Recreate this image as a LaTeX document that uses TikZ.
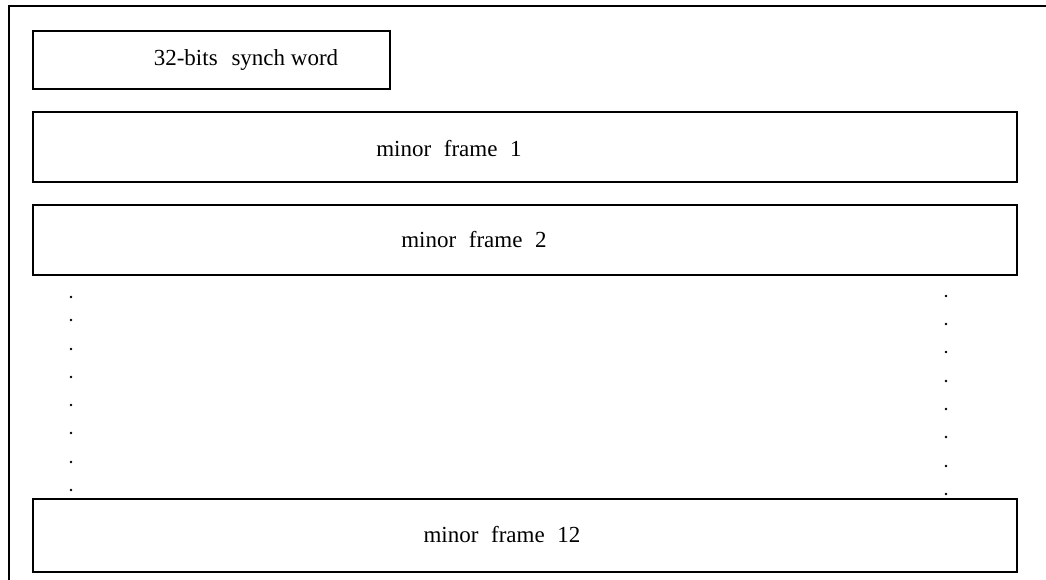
\documentclass[tikz,border=0pt]{standalone}
\usepackage{fontspec}
\setmainfont{Liberation Serif}
\begin{document}
\begin{tikzpicture}[x=1pt,y=-1pt,
  frame/.style={draw, line width=1.6pt, inner sep=0pt},
  lbl/.style={inner sep=0pt, font=\fontsize{23}{26}\selectfont},
  dot/.style={circle, fill, inner sep=0pt, minimum size=2.6pt}]
\useasboundingbox (0,0) rectangle (1046,580);
\coordinate (ol) at (9,580);
\coordinate (otl) at (9,6);
\coordinate (otr) at (1046,6);
\draw[line width=1.5pt] (ol) -- (otl) -- (otr);
\node[frame, minimum width=357pt, minimum height=58pt] (sync) at (211.5,60) {};
\node[frame, minimum width=984pt, minimum height=70pt] (mf1) at (525,147) {};
\node[frame, minimum width=984pt, minimum height=70pt] (mf2) at (525,240) {};
\node[frame, minimum width=984pt, minimum height=73pt] (mf12) at (525,535.5) {};
\node[lbl] (tsync) at (246,60) {32-bits\hspace{0.35em} synch word};
\node[lbl] (t1) at (449,149) {minor\hspace{0.3em} frame\hspace{0.3em} 1};
\node[lbl] (t2) at (474,240) {minor\hspace{0.3em} frame\hspace{0.3em} 2};
\node[lbl] (t12) at (502,535) {minor\hspace{0.3em} frame\hspace{0.3em} 12};
\foreach \y [count=\i] in {297,320,349,377,405,433,462,490}
  \node[dot] (l\i) at (71,\y) {};
\foreach \y [count=\i] in {296,324,352,381,409,437,466,494}
  \node[dot] (r\i) at (946,\y) {};
\end{tikzpicture}
\end{document}
